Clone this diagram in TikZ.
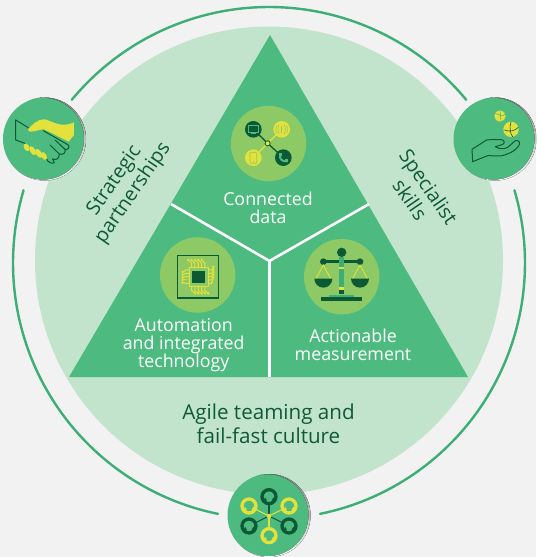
\documentclass[tikz,border=0pt]{standalone}
\usepackage{fontspec}
\setmainfont{Open Sans}
\usetikzlibrary{calc}
\definecolor{bgc}{HTML}{F2F2F2}
\definecolor{disc}{HTML}{C2E4CC}
\definecolor{tri}{HTML}{4DBB7F}
\definecolor{ringc}{HTML}{3CAE76}
\definecolor{shade}{HTML}{46A677}
\definecolor{lime}{HTML}{8DC965}
\definecolor{dk}{HTML}{0B5A34}
\definecolor{yel}{HTML}{E3E23C}
\definecolor{txt}{HTML}{0E5A38}
\tikzset{
 lbl/.style={text=white,font=\fontsize{17.8}{18.2}\selectfont,align=center,inner sep=0pt},
 dlbl/.style={text=txt,font=\fontsize{20.6}{23.5}\selectfont,align=center,inner sep=0pt},
 slbl/.style={text=txt,font=\fontsize{19.8}{22.5}\selectfont,align=center,inner sep=0pt},
 ringarc/.style={draw=ringc,line width=2.4pt,line cap=round},
 divider/.style={draw=white,line width=2.6pt},
 hub/.style={fill=lime,draw=none},
 crop/.style={x=0.3333pt,y=-0.3333pt},
 dkline/.style={draw=dk,line width=1pt,line join=round,line cap=round},
 trace/.style={draw=yel,line width=1pt,line cap=round}
}
\newcommand{\badgedisc}[2]{%
 \fill[tri] (#1,#2) circle (41.5);
 \begin{scope}
  \clip (#1,#2) circle (41.5);
  \fill[shade,even odd rule] (#1,#2) circle (45) (#1-1.4,#2-0.3) circle (41);
 \end{scope}
}
\newcommand{\person}[3]{%
 \fill[tri] (#1,#2) circle (21);
 \draw[#3,line width=3.3pt] (#1,#2) circle (21);
 \fill[#3] (#1-9,#2+18) .. controls (#1-4,#2+12) and (#1-8,#2+6) .. (#1-12,#2+2) -- (#1-16,#2+14) -- cycle;
 \fill[#3] (#1+9,#2+18) .. controls (#1+5,#2+12) and (#1+9,#2+8) .. (#1+14,#2+2) -- (#1+17,#2+12) -- cycle;
}
\begin{document}
\begin{tikzpicture}[x=1pt,y=-1pt]
\useasboundingbox (0,0) rectangle (536,557);
\fill[bgc] (0,0) rectangle (536,557);
% large disc
\fill[disc] (269,260.5) circle (234);
% ring arcs
\coordinate (ringc) at (269,263);
\draw[ringarc] (ringc) ++(-140.4:256) arc[start angle=-140.4,end angle=-39.6,radius=256];
\draw[ringarc] (ringc) ++(-163.5:256) arc[start angle=-163.5,end angle=-258.5,radius=256];
\draw[ringarc] (ringc) ++(-16.5:256) arc[start angle=-16.5,end angle=78.5,radius=256];
% triangle
\coordinate (apex) at (270,35);
\coordinate (bl) at (69,377);
\coordinate (br) at (468,377);
\coordinate (mid) at (269.5,261);
\fill[tri] (apex) -- (br) -- (bl) -- cycle;
\coordinate (dl) at (171,204);
\coordinate (dr) at (369,204);
\coordinate (db) at (269.5,377);
\draw[divider] (mid) -- (dl);
\draw[divider] (mid) -- (dr);
\draw[divider] (mid) -- (db);
% hub circles
\fill[hub] (268.5,143.5) circle (37.7);
\fill[hub] (197.7,275) circle (37.7);
\fill[hub] (341.7,276.7) circle (37.7);
% data icon
\begin{scope}[shift={(220,110)},crop]
 \draw[dk,line width=1.3pt] (100,58) -- (143,100);
 \draw[dk,line width=1.3pt] (190,143) -- (143,100);
 \draw[yel,line width=1.3pt] (185,58) -- (143,100);
 \draw[yel,line width=1.3pt] (100,143) -- (143,100);
 \fill[dk] (143,100) circle (9);
 \fill[yel] (143,100) circle (6);
 \fill[dk] (100,58) circle (25);
 \fill[yel] (185,58) circle (25);
 \fill[yel] (100,143) circle (25);
 \fill[dk] (190,143) circle (25);
 % monitor
 \draw[tri,line width=0.8pt] (85,47) rectangle (115,66);
 \draw[tri,line width=0.8pt] (92,71) -- (108,71);
 % signal
 \draw[lime,line width=0.7pt] (185,47) -- (185,69);
 \foreach \s in {1,-1}{
  \draw[lime,line width=0.6pt] (185+\s*8,44) .. controls (185+\s*12,52) and (185+\s*12,64) .. (185+\s*8,72);
  \draw[lime,line width=0.6pt] (185+\s*15,47) .. controls (185+\s*18,52) and (185+\s*18,64) .. (185+\s*15,69);
 }
 % mobile
 \draw[lime,line width=0.8pt,rounded corners=1pt] (90,127) rectangle (110,160);
 \fill[lime] (100,155) circle (2);
 % phone
 \draw[tri,line width=2pt,line cap=round] (180,132) .. controls (178,150) and (188,155) .. (202,154);
 \fill[tri] (177,130) rectangle (186,139);
 \fill[tri] (195,148) rectangle (205,157);
\end{scope}
% chip icon
\begin{scope}[shift={(150,230)},crop]
 \draw[dk,line width=1.2pt] (82,76) rectangle (205,204);
 \foreach \i in {0,1,2,3,4}{
  \draw[trace] ({125+\i*10},112) -- ({125+\i*10},100) -- ({117+\i*10},92);
  \fill[yel] ({115+\i*10},90) circle (4);
  \draw[trace] ({125+\i*10},170) -- ({125+\i*10},182) -- ({133+\i*10},188);
  \fill[yel] ({135+\i*10},190) circle (4);
  \draw[trace] (118,{120+\i*10}) -- (108,{120+\i*10}) -- (100,{126+\i*8});
  \fill[yel] (98,{126+\i*8}) circle (4);
  \draw[trace] (175,{120+\i*10}) -- (185,{120+\i*10}) -- (190,{112+\i*8});
  \fill[yel] (190,{110+\i*8}) circle (4);
 }
 \fill[lime] (118,112) rectangle (175,170);
 \draw[yel,line width=1.2pt] (118,112) rectangle (175,170);
 \fill[dk] (126,122) rectangle (165,160);
\end{scope}
% scales icon
\begin{scope}[shift={(295,230)},crop]
 \fill[dk] (85,90) rectangle (195,100);
 \fill[dk] (140,67) circle (14);
 \fill[dk] (85,95) circle (10);
 \fill[dk] (195,95) circle (10);
 \fill[ringc] (132,80) rectangle (148,175);
 \fill[dk] (132,172) rectangle (148,192);
 \fill[yel] (132,111) rectangle (148,118);
 \fill[yel] (132,172) rectangle (148,179);
 \draw[yel,line width=0.9pt] (62,148) -- (85,105) -- (108,148);
 \draw[yel,line width=0.9pt] (172,148) -- (195,105) -- (218,148);
 \fill[dk] (58,146) arc[start angle=180,end angle=0,radius=27] -- cycle;
 \fill[dk] (168,146) arc[start angle=180,end angle=0,radius=27] -- cycle;
 \fill[ringc] (102,195) rectangle (178,201);
 \fill[dk] (78,200) rectangle (201,212);
\end{scope}
% left badge
\badgedisc{44.5}{139}
\begin{scope}[shift={(0,90)},crop]
 \draw[dkline] (47,90) -- (85,113);
 \draw[dkline] (47,90) -- (47,150) -- (75,160);
 \draw[dkline] (130,122) -- (205,165) .. controls (210,172) and (205,180) .. (195,178);
 \draw[dkline] (165,150) -- (195,178) .. controls (198,188) and (190,196) .. (178,192);
 \draw[dkline] (150,165) -- (178,192) .. controls (178,205) and (170,212) .. (158,207);
 \draw[dkline] (138,205) .. controls (145,218) and (155,222) .. (163,218) -- (158,207);
 \fill[yel] (85,118) .. controls (95,105) and (110,88) .. (135,88) .. controls (160,95) and (185,115) .. (222,97) -- (222,135) -- (206,155) -- (132,118) .. controls (120,118) and (105,125) .. (92,125) .. controls (85,125) and (83,122) .. (85,118) -- cycle;
 \fill[yel,rotate around={-60:(80,172)}] (80,172) ellipse (12 and 8);
 \fill[yel,rotate around={-60:(98,182)}] (98,182) ellipse (15 and 8);
 \fill[yel,rotate around={-60:(116,190)}] (116,190) ellipse (15 and 8);
 \fill[yel,rotate around={-60:(132,198)}] (132,198) ellipse (13 and 7.5);
\end{scope}
% right badge
\badgedisc{495}{139}
\begin{scope}[shift={(446,90)},crop]
 \draw[dkline] (78,178) -- (122,150) .. controls (140,148) and (160,148) .. (170,150) .. controls (178,155) and (175,163) .. (165,165) -- (148,170) .. controls (160,178) and (175,178) .. (185,172) -- (208,152) .. controls (220,150) and (224,158) .. (218,168) .. controls (210,180) and (195,190) .. (165,198) -- (125,197) -- (80,215) -- cycle;
 \fill[yel] (162,78) circle (17);
 \fill[yel] (195,118) circle (23);
 \draw[tri,line width=0.6pt] (148,70) .. controls (162,76) and (170,80) .. (178,72);
 \draw[tri,line width=0.6pt] (162,62) -- (165,94);
 \draw[dk,line width=0.6pt] (175,120) .. controls (190,126) and (205,124) .. (217,112);
 \draw[dk,line width=0.6pt] (195,96) .. controls (190,110) and (192,130) .. (200,141);
\end{scope}
% bottom badge
\badgedisc{269}{515.5}
\begin{scope}[shift={(220,470)},crop]
 \draw[dk,line width=1.1pt] (147,138) -- (147,100);
 \draw[dk,line width=1.1pt] (147,138) -- (87,168);
 \draw[dk,line width=1.1pt] (147,138) -- (207,168);
 \draw[yel,line width=1.1pt] (147,138) -- (87,108);
 \draw[yel,line width=1.1pt] (147,138) -- (207,108);
 \draw[yel,line width=1.1pt] (147,138) -- (147,175);
 \person{147}{80}{dk}
 \person{87}{108}{yel}
 \person{207}{108}{yel}
 \person{87}{168}{dk}
 \person{207}{168}{dk}
 \person{147}{197}{yel}
 \fill[yel] (147,138) circle (7);
\end{scope}
% labels
\node[lbl] (n1) at (268,207.5) {Connected\\data};
\node[lbl] (n2) at (183.7,345) {Automation\\and integrated\\technology};
\node[lbl] (n3) at (353,345) {Actionable\\measurement};
\node[dlbl] (n4) at (268.5,424) {Agile teaming and\\fail-fast culture};
\node[slbl,rotate=55.5] (n5) at (124,187) {Strategic\\partnerships};
\node[slbl,rotate=-55.5] (n6) at (419.5,193) {Specialist\\skills};
\end{tikzpicture}
\end{document}
